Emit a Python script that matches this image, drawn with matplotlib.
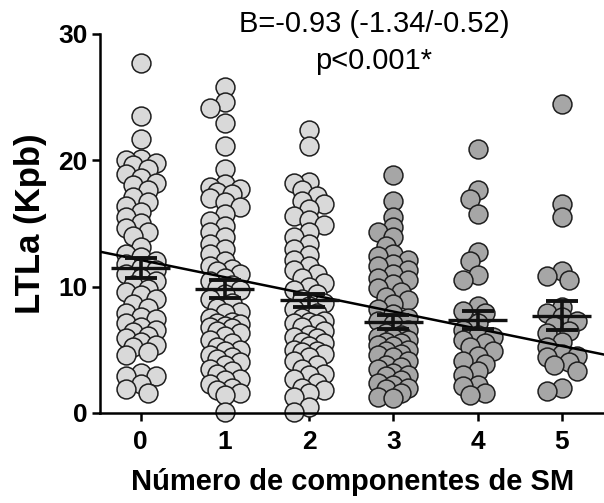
import numpy as np
import matplotlib
matplotlib.use("Agg")
import matplotlib.pyplot as plt

plt.rcParams['font.family'] = ['Liberation Sans', 'DejaVu Sans']

# valores (LTLa en Kpb) por numero de componentes de SM
categorias = [0, 1, 2, 3, 4, 5]
g0 = [27.7, 23.5, 21.7, 20.1, 20.0, 19.8, 19.6, 19.3, 18.9, 18.6, 18.2, 18.0, 17.6,
      17.1, 16.7, 16.4, 15.9, 15.5, 15.0, 14.6, 14.3, 14.0, 13.1, 12.6, 12.3, 12.0,
      11.8, 11.5, 11.3, 11.0, 10.7, 10.4, 10.1, 9.8, 9.6, 9.3, 9.0, 8.6, 8.3, 7.9,
      7.6, 7.4, 7.1, 6.8, 6.6, 6.4, 6.1, 5.9, 5.6, 5.4, 5.2, 4.8, 4.6, 3.2, 2.9,
      2.9, 2.3, 1.9, 1.6]
g1 = [25.8, 24.6, 24.1, 22.9, 21.1, 19.3, 18.1, 17.9, 17.7, 17.5, 17.3, 17.0, 16.7,
      16.3, 15.7, 15.2, 14.8, 14.3, 13.9, 13.4, 13.0, 12.6, 12.0, 11.6, 11.4, 11.2,
      11.0, 10.7, 10.4, 10.1, 9.9, 9.7, 9.4, 9.0, 8.7, 8.3, 8.0, 7.9, 7.5, 7.2, 7.1,
      7.0, 6.9, 6.8, 6.7, 6.5, 6.3, 6.1, 5.8, 5.5, 5.2, 5.0, 4.9, 4.6, 4.4, 4.3,
      4.0, 3.8, 3.5, 3.3, 3.1, 2.7, 2.6, 2.3, 2.0, 1.8, 1.6, 1.4, 0.1]
g2 = [22.4, 21.1, 18.3, 18.2, 17.6, 17.2, 16.8, 16.5, 16.1, 15.6, 15.3, 14.9, 14.3,
      13.9, 13.4, 13.0, 12.5, 12.1, 11.6, 11.3, 11.0, 10.7, 10.3, 10.0, 9.7, 9.4,
      9.0, 8.7, 8.5, 8.2, 7.9, 7.5, 7.3, 7.2, 7.1, 7.0, 6.8, 6.5, 6.2, 6.0, 5.9,
      5.6, 5.5, 5.3, 5.0, 4.9, 4.8, 4.7, 4.4, 4.1, 3.8, 3.5, 3.1, 3.0, 2.7, 2.4,
      2.0, 1.8, 1.6, 1.3, 0.5, 0.1]
g3 = [18.8, 16.8, 15.5, 14.7, 14.3, 13.9, 13.2, 12.6, 12.4, 12.1, 11.8, 11.6, 11.3,
      11.0, 10.7, 10.5, 10.2, 9.9, 9.6, 9.2, 8.9, 8.6, 8.2, 7.8, 7.5, 7.3, 7.0,
      6.6, 6.3, 6.2, 6.0, 5.9, 5.8, 5.6, 5.5, 5.4, 5.3, 5.0, 4.9, 4.7, 4.6, 4.4,
      4.1, 3.8, 3.6, 3.5, 3.2, 3.0, 2.9, 2.6, 2.4, 2.2, 2.0, 1.9, 1.6, 1.3, 1.2]
g4 = [20.9, 17.6, 16.9, 15.7, 12.75, 12.05, 10.9, 10.5, 8.5, 8.1, 7.9, 7.1, 6.6,
      6.2, 6.0, 5.8, 5.5, 5.2, 4.9, 4.5, 4.1, 3.9, 3.3, 3.0, 2.2, 2.1, 1.6, 1.4]
g5 = [24.4, 16.5, 15.5, 11.2, 10.8, 10.5, 8.4, 7.9, 7.6, 7.3, 6.9, 6.5, 6.3, 5.6,
      5.2, 4.7, 4.5, 4.4, 4.0, 3.8, 3.3, 1.95, 1.75]
grupos = [g0, g1, g2, g3, g4, g5]

# media y error estandar
medias = [11.45, 9.8, 8.9, 7.2, 7.35, 7.7]
sem = [0.8, 0.68, 0.53, 0.53, 0.73, 1.13]

# recta de regresion
intercepto = 12.1
pendiente = -1.36

colores = ['#d9d9d9', '#d9d9d9', '#d9d9d9', '#a6a6a6', '#a6a6a6', '#a6a6a6']

fig = plt.figure(figsize=(6.04, 5.03), dpi=100)
ax = fig.add_axes([0.166, 0.179, 0.834, 0.754])
ax.set_xlim(-0.48, 5.5)
ax.set_ylim(0, 30)

# escala en pixeles para repartir los puntos (tipo beeswarm)
p0 = ax.transData.transform((0, 0))
p1 = ax.transData.transform((1, 1))
px_x = p1[0] - p0[0]
px_y = p1[1] - p0[1]


def swarm(vals, paso=7.5, dmin=10.0, kmax=2):
    ys = np.array(vals) * px_y
    orden = np.argsort(-ys)
    offs = np.zeros(len(vals))
    puestos = []
    for i in orden:
        mejor, mejor_d = 0.0, -1
        for k in [0, -1, 1, -2, 2, -3, 3][:2 * kmax + 1]:
            dx = k * paso
            if puestos:
                d = min(np.hypot(dx - px, ys[i] - py) for px, py in puestos)
            else:
                d = 1e9
            if d >= dmin:
                mejor = dx
                break
            if d > mejor_d:
                mejor, mejor_d = dx, d
        offs[i] = mejor
        puestos.append((mejor, ys[i]))
    return offs / px_x


for c, vals, col in zip(categorias, grupos, colores):
    xs = c + swarm(vals)
    ax.scatter(xs, vals, s=185, facecolor=col, edgecolor='#1e1e1e',
               linewidth=1.1, zorder=2, clip_on=False)

xr = np.array(ax.get_xlim())
ax.plot(xr, intercepto + pendiente * xr, color='black', lw=1.8, zorder=3)

for c, m, e in zip(categorias, medias, sem):
    ax.hlines(m, c - 0.35, c + 0.35, color='#111111', lw=2.4, zorder=4)
    ax.errorbar(c, m, yerr=e, fmt='none', ecolor='#111111', elinewidth=2.6,
                capsize=11.5, capthick=2.8, zorder=4)

ax.spines['top'].set_visible(False)
ax.spines['right'].set_visible(False)
ax.spines['left'].set_linewidth(1.8)
ax.spines['bottom'].set_linewidth(1.8)
ax.set_xticks(categorias)
ax.set_yticks([0, 10, 20, 30])
ax.tick_params(axis='both', length=6, width=1.8, labelsize=19, pad=3)
ax.tick_params(axis='x', pad=6)
for t in ax.get_xticklabels() + ax.get_yticklabels():
    t.set_fontweight('bold')

ax.set_xlabel('Número de componentes de SM', fontsize=21, fontweight='bold',
              labelpad=10)
ax.set_ylabel('LTLa (Kpb)', fontsize=25, fontweight='bold', labelpad=8)

fig.text(0.619, 0.952, 'B=-0.93 (-1.34/-0.52)', fontsize=21, ha='center', va='center')
fig.text(0.619, 0.879, 'p<0.001*', fontsize=21, ha='center', va='center')

fig.savefig('out.png', dpi=100)
